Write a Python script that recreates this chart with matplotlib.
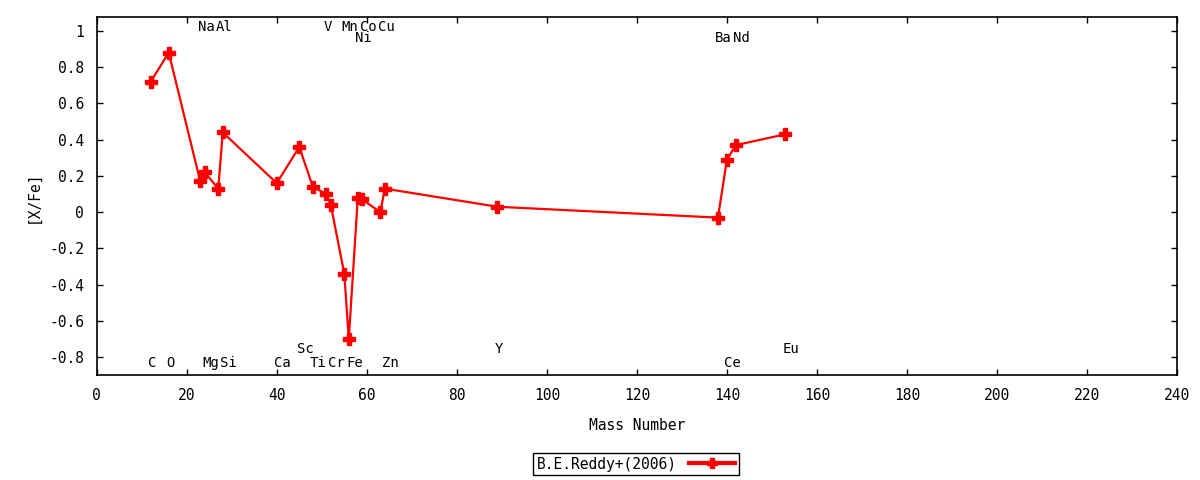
import numpy as np
import matplotlib
matplotlib.use('Agg')
import matplotlib.pyplot as plt

plt.rcParams['font.family'] = ['DejaVu Sans Mono']
plt.rcParams['font.size'] = 9.5

# datos: numero masico y [X/Fe]
masa = [12, 16, 23, 24, 27, 28, 40, 45, 48, 51, 52, 55, 56, 58, 59, 63, 64, 89, 138, 140, 142, 153]
xfe = [0.72, 0.88, 0.17, 0.22, 0.13, 0.44, 0.16, 0.36, 0.14, 0.10, 0.04, -0.34, -0.70,
       0.08, 0.07, 0.00, 0.13, 0.03, -0.03, 0.29, 0.37, 0.43]

# etiquetas de los elementos (nombre, masa, fila)
elementos = ['C', 'O', 'Na', 'Mg', 'Al', 'Si', 'Ca', 'Sc', 'Ti', 'V', 'Cr', 'Mn', 'Fe',
             'Ni', 'Co', 'Cu', 'Zn', 'Y', 'Ba', 'Ce', 'Nd', 'Eu']
masa_el = [12, 16, 23, 24, 27, 28, 40, 45, 48, 51, 52, 55, 56, 58, 59, 63, 64, 89, 138, 140, 142, 153]
fila_el = [1.02 if e in ('Na', 'Al', 'V', 'Mn', 'Co', 'Cu') else
           0.962 if e in ('Ni', 'Ba', 'Nd') else
           -0.757 if e in ('Sc', 'Y', 'Eu') else -0.834 for e in elementos]

fig = plt.figure(figsize=(12, 4.8), dpi=100)
ax = fig.add_axes([0.0806, 0.2181, 0.9003, 0.7458])

linea, = ax.plot(masa, xfe, color='red', lw=1.6, marker='P', ms=8.5,
                 mec='red', label='B.E.Reddy+(2006)')

for e, m, f in zip(elementos, masa_el, fila_el):
    ax.text(m - 0.6, f, e, ha='left', va='center', fontsize=10)

ax.set_xlim(0, 240)
ax.set_ylim(-0.9, 1.075)
ax.set_xticks(np.arange(0, 241, 20))
ax.set_yticks(np.arange(-0.8, 1.01, 0.2))
ax.set_yticklabels(['-0.8', '-0.6', '-0.4', '-0.2', '0', '0.2', '0.4', '0.6', '0.8', '1'])
ax.tick_params(direction='in', top=True, right=True, length=4, width=1, labelsize=10.5, pad=9)
for s in ax.spines.values():
    s.set_linewidth(1.2)

ax.set_xlabel('Mass Number', fontsize=10.5, labelpad=11)
ax.set_ylabel('[X/Fe]', fontsize=10.5, labelpad=6)

leg = fig.legend(handles=[linea], loc='center', bbox_to_anchor=(636 / 1200, 1 - 464 / 480),
                 markerfirst=False, fancybox=False, framealpha=1, edgecolor='black',
                 fontsize=10.5, handlelength=3.2, borderpad=0.25, handletextpad=0.8)
leg.get_frame().set_linewidth(1)
leg.legend_handles[0].set_linewidth(3)
leg.legend_handles[0].set_markersize(7)

plt.savefig('out.png', dpi=100)
